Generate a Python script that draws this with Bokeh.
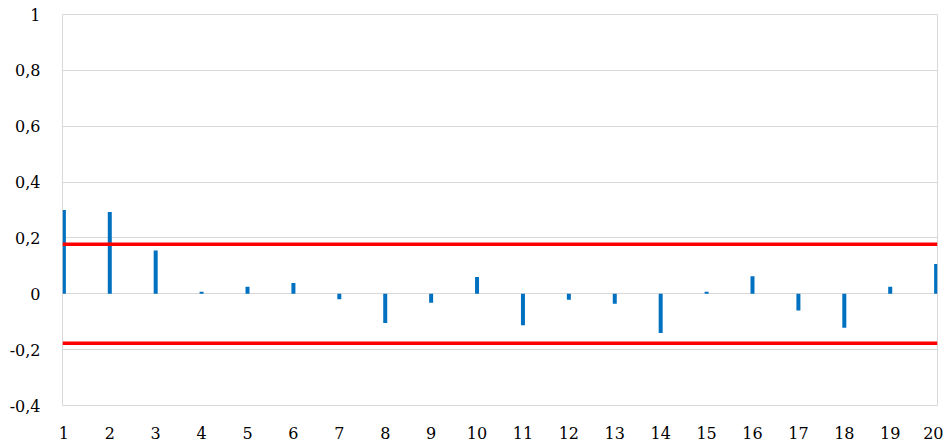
from bokeh.plotting import figure
from bokeh.models import Range1d, FixedTicker, CustomJSTickFormatter, ColumnDataSource
from bokeh.embed import file_html
from bokeh.resources import INLINE

# Data
lags = list(range(1, 21))
acf = [0.300, 0.293, 0.155, 0.007, 0.025, 0.039, -0.020, -0.105, -0.032, 0.060,
       -0.113, -0.021, -0.036, -0.140, 0.007, 0.063, -0.060, -0.122, 0.025, 0.107]
upper_bound = 0.177
lower_bound = -0.177
y_ticks = [-0.4, -0.2, 0, 0.2, 0.4, 0.6, 0.8, 1]

FONT = "DejaVu Serif"

p = figure(width=943, height=441, output_backend="svg", toolbar_location=None,
           x_range=Range1d(0.97, 20.03), y_range=Range1d(-0.4, 1.0),
           min_border_left=62, min_border_right=6, min_border_top=14, min_border_bottom=33)

p.background_fill_color = "white"
p.outline_line_color = "#d9d9d9"
p.outline_line_width = 1

src = ColumnDataSource(dict(x=lags, top=acf))
p.vbar(x="x", top="top", bottom=0, width=0.087, source=src,
       fill_color="#0070C0", line_color=None)

p.line(x=[lags[0] - 0.03, lags[-1] + 0.03], y=[upper_bound, upper_bound], line_color="#FF0000", line_width=3.5)
p.line(x=[lags[0] - 0.03, lags[-1] + 0.03], y=[lower_bound, lower_bound], line_color="#FF0000", line_width=3.5)

# axes
p.xgrid.visible = False
p.ygrid.grid_line_color = "#d9d9d9"
p.ygrid.grid_line_width = 1
p.yaxis.ticker = FixedTicker(ticks=y_ticks)
p.xaxis.ticker = FixedTicker(ticks=lags)
p.yaxis.formatter = CustomJSTickFormatter(code="return (Math.round(tick*10)/10).toString().replace('.', ',');")

for ax in (p.xaxis[0], p.yaxis[0]):
    ax.axis_line_color = None
    ax.major_tick_line_color = None
    ax.minor_tick_line_color = None
    ax.major_label_text_font = FONT
    ax.major_label_text_font_size = "16px"
    ax.major_label_text_color = "#000000"

p.yaxis.major_label_standoff = 16
p.xaxis.major_label_standoff = 15

open("out.html", "w").write(file_html(p, INLINE))
